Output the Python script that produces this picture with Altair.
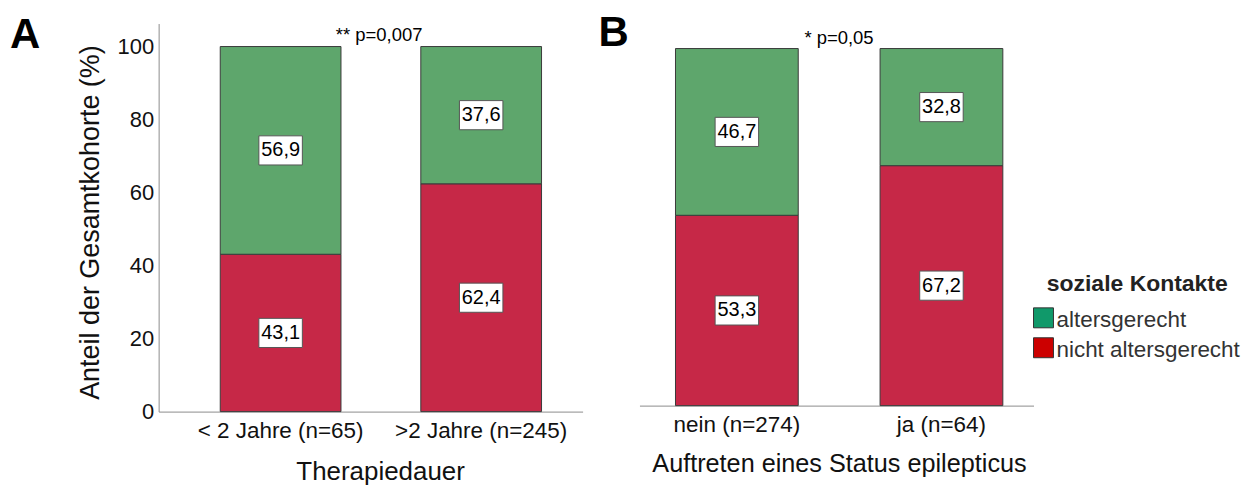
import altair as alt
import pandas as pd

# ---------------- data ----------------
series = ["nicht altersgerecht", "altersgerecht"]

cats_a = ["< 2 Jahre (n=65)", ">2 Jahre (n=245)"]
nicht_a = [43.1, 62.4]
alters_a = [56.9, 37.6]

cats_b = ["nein (n=274)", "ja (n=64)"]
nicht_b = [53.3, 67.2]
alters_b = [46.7, 32.8]

p_text_a = "** p=0,007"
p_text_b = "* p=0,05"

legend_title = "soziale Kontakte"
legend_labels = ["altersgerecht", "nicht altersgerecht"]
legend_colors = ["#10996a", "#cc0000"]

BAR_RED = "#c62847"
BAR_GREEN = "#5ea66c"
AXIS_GREY = "#8c8c8c"
FONT = "Liberation Sans"


def fmt(v):
    return f"{v:.1f}".replace(".", ",")


def make_df(cats, nicht, alters):
    rows = []
    for c, n, a in zip(cats, nicht, alters):
        rows.append(dict(cat=c, series=series[0], y0=0.0, y1=n, mid=n / 2, label=fmt(n)))
        rows.append(dict(cat=c, series=series[1], y0=n, y1=n + a, mid=n + a / 2, label=fmt(a)))
    return pd.DataFrame(rows)


BOX_SHAPE = "M-1,-0.67L1,-0.67L1,0.67L-1,0.67Z"


def panel(df, cats, width, height, ymax, p_inner, p_outer, align, xtitle, xtitle_size,
          xtitle_x, xtitle_pad, show_y, letter, letter_xy, ptext, ptext_xy, extra_layers=()):
    xaxis = alt.Axis(title=xtitle, labelAngle=0, ticks=False, domainColor=AXIS_GREY,
                     labelFontSize=22.5, labelPadding=8, labelColor="#111",
                     titleFontSize=xtitle_size, titlePadding=xtitle_pad, titleFontWeight="normal",
                     titleColor="#111", titleX=xtitle_x, titleAlign="center")
    x = alt.X("cat:N", sort=cats,
              scale=alt.Scale(paddingInner=p_inner, paddingOuter=p_outer, align=align),
              axis=xaxis)
    yscale = alt.Scale(domain=[0, ymax], nice=False, zero=True)
    if show_y:
        yaxis = alt.Axis(title="Anteil der Gesamtkohorte (%)", values=[0, 20, 40, 60, 80, 100],
                         ticks=False, grid=False, domainColor=AXIS_GREY, labelFontSize=22,
                         labelPadding=5, labelColor="#111", titleFontSize=27,
                         titlePadding=13, titleFontWeight="normal", titleColor="#111",
                         titleY=199, titleAlign="center")
    else:
        yaxis = None

    bars = alt.Chart(df).mark_bar(stroke="#3a3a3a", strokeWidth=1).encode(
        x=x,
        y=alt.Y("y0:Q", scale=yscale, axis=yaxis),
        y2="y1:Q",
        color=alt.Color("series:N", scale=alt.Scale(domain=series, range=[BAR_RED, BAR_GREEN]),
                        legend=None),
    )
    boxes = alt.Chart(df).mark_point(shape=BOX_SHAPE, size=1900, filled=True, fill="white",
                                     stroke="#555555", strokeWidth=1, opacity=1).encode(
        x=x, y=alt.Y("mid:Q", scale=yscale, axis=yaxis),
    )
    texts = alt.Chart(df).mark_text(fontSize=20, baseline="middle", align="center",
                                    color="black").encode(
        x=x, y=alt.Y("mid:Q", scale=yscale, axis=yaxis), text="label:N",
    )
    letter_layer = alt.Chart(pd.DataFrame({"t": [letter]})).mark_text(
        fontSize=42, fontWeight="bold", align="left", baseline="alphabetic", color="black"
    ).encode(x=alt.value(letter_xy[0]), y=alt.value(letter_xy[1]), text="t:N")
    p_layer = alt.Chart(pd.DataFrame({"t": [ptext]})).mark_text(
        fontSize=18.5, align="center", baseline="alphabetic", color="black"
    ).encode(x=alt.value(ptext_xy[0]), y=alt.value(ptext_xy[1]), text="t:N")

    return alt.layer(bars, boxes, texts, letter_layer, p_layer, *extra_layers).properties(
        width=width, height=height)


df_a = make_df(cats_a, nicht_a, alters_a)
df_b = make_df(cats_b, nicht_b, alters_b)

# legend layers (drawn to the right of panel B)
legend_layers = [
    alt.Chart(pd.DataFrame({"t": [legend_title]})).mark_text(
        fontSize=23, fontWeight="bold", align="center", baseline="middle", color="#222"
    ).encode(x=alt.value(499), y=alt.value(261), text="t:N")
]
legend_rows_y = [295, 325]
for lab, col, yy in zip(legend_labels, legend_colors, legend_rows_y):
    d = pd.DataFrame({"t": [lab]})
    legend_layers.append(
        alt.Chart(d).mark_point(shape="square", size=400, filled=True, fill=col,
                                stroke="#333333", strokeWidth=1, opacity=1)
        .encode(x=alt.value(405), y=alt.value(yy))
    )
    legend_layers.append(
        alt.Chart(d).mark_text(fontSize=22.5, align="left", baseline="middle", color="#333")
        .encode(x=alt.value(418), y=alt.value(yy + 2), text="t:N")
    )

panel_a = panel(df_a, cats_a, 425, 389, 106.3, 0.398, 0.256, 0.6, "Therapiedauer", 26,
                222, 17, True, "A", (-149, 25), p_text_a, (221, 18))
panel_b = panel(df_b, cats_b, 395, 383, 107.0, 0.4, 0.163, 0.54,
                "Auftreten eines Status epilepticus", 25.3, 200, 16, False, "B", (-41, 23),
                p_text_b, (200, 21), legend_layers)

chart = alt.hconcat(panel_a, panel_b, spacing=57, bounds="flush").properties(
    padding={"left": 2, "top": 4, "right": 5, "bottom": 0}
).configure(font=FONT).configure_view(stroke=None)

chart.save("out.html", embed_options={"renderer": "svg", "actions": False})
